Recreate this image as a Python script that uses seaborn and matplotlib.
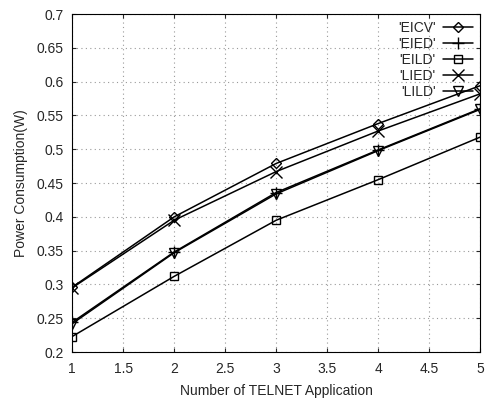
import matplotlib
matplotlib.use("Agg")
import matplotlib.pyplot as plt
import seaborn as sns

# values
apps = [1, 2, 3, 4, 5]
eicv = [0.296, 0.400, 0.479, 0.538, 0.594]
eied = [0.244, 0.348, 0.436, 0.499, 0.560]
eild = [0.223, 0.312, 0.395, 0.455, 0.518]
lied = [0.295, 0.395, 0.467, 0.527, 0.582]
lild = [0.242, 0.347, 0.434, 0.498, 0.559]

names = ["'EICV'", "'EIED'", "'EILD'", "'LIED'", "'LILD'"]
markers = ["D", "+", "s", "x", "v"]
sizes = [5, 9, 6, 8, 7]

sns.set_style("ticks")
plt.rcParams['font.family'] = ['Liberation Sans', 'DejaVu Sans']

fig = plt.figure(figsize=(4.91, 4.01), dpi=100)
ax = fig.add_axes([0.147, 0.122, 0.831, 0.843])

for vals, name, mk, ms in zip([eicv, eied, eild, lied, lild], names, markers, sizes):
    sns.lineplot(x=apps, y=vals, label=name, color="black", marker=mk,
                 markersize=ms, markerfacecolor="none", markeredgecolor="black",
                 markeredgewidth=1.0, linewidth=1.1, ax=ax)

ax.set_xlim(1, 5)
ax.set_ylim(0.2, 0.7)
ax.set_xticks([1, 1.5, 2, 2.5, 3, 3.5, 4, 4.5, 5])
ax.set_xticklabels(["1", "1.5", "2", "2.5", "3", "3.5", "4", "4.5", "5"])
ax.set_yticks([0.2, 0.25, 0.3, 0.35, 0.4, 0.45, 0.5, 0.55, 0.6, 0.65, 0.7])
ax.set_yticklabels(["0.2", "0.25", "0.3", "0.35", "0.4", "0.45", "0.5",
                    "0.55", "0.6", "0.65", "0.7"])
ax.tick_params(direction="in", labelsize=10, length=3, top=True, right=True)
ax.tick_params(axis="x", pad=7)
ax.tick_params(axis="y", pad=6)
ax.grid(True, linestyle=(0, (1, 3)), color="#999999", linewidth=0.8)
for s in ax.spines.values():
    s.set_visible(True)
    s.set_color("black")
    s.set_linewidth(0.8)

ax.set_xlabel("Number of TELNET Application", fontsize=10, labelpad=6)
ax.set_ylabel("Power Consumption(W)", fontsize=10, labelpad=6)

leg = ax.legend(loc="upper right", frameon=False, fontsize=10,
                markerfirst=False, handlelength=2.2, labelspacing=0.15,
                borderaxespad=0.1, handletextpad=0.5)

fig.savefig("out.png", dpi=100)
